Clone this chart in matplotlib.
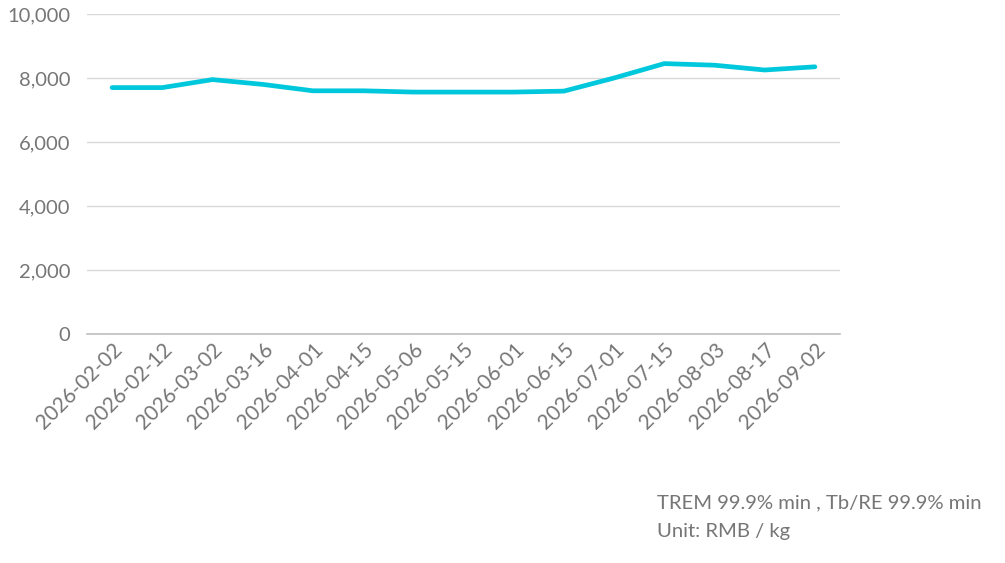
import matplotlib.pyplot as plt

dates = [
    "2026-02-02", "2026-02-12", "2026-03-02", "2026-03-16", "2026-04-01",
    "2026-04-15", "2026-05-06", "2026-05-15", "2026-06-01", "2026-06-15",
    "2026-07-01", "2026-07-15", "2026-08-03", "2026-08-17", "2026-09-02",
]
prices = [7700, 7700, 7950, 7800, 7600, 7600, 7560, 7560, 7560, 7590,
          8000, 8450, 8400, 8250, 8350]
y_ticks = [0, 2000, 4000, 6000, 8000, 10000]
note_lines = ["TREM 99.9% min , Tb/RE 99.9% min", "Unit: RMB / kg"]

plt.rcParams["font.family"] = ["Lato", "DejaVu Sans"]
text_color = "#767676"

fig = plt.figure(figsize=(10.05, 5.63), dpi=100)
ax = fig.add_axes([87 / 1005, 1 - 334 / 563, 753 / 1005, 320 / 563])

x = list(range(len(dates)))
ax.plot(x, prices, color="#00C8DC", linewidth=3.4, solid_capstyle="round",
        solid_joinstyle="round", zorder=3)

ax.set_xlim(-0.5, len(dates) - 0.5)
ax.set_ylim(0, 10000)
ax.set_yticks(y_ticks)
ax.set_yticklabels([f"{v:,}" for v in y_ticks])
ax.set_xticks(x)
ax.set_xticklabels(dates, rotation=45, ha="right", rotation_mode="anchor")

ax.grid(axis="y", color="#d9d9d9", linewidth=1)
ax.set_axisbelow(True)
for side in ("left", "right", "top"):
    ax.spines[side].set_visible(False)
ax.spines["bottom"].set_color("#bfbfbf")
ax.spines["bottom"].set_linewidth(1.2)
ax.tick_params(axis="y", length=0, labelsize=14.5, colors=text_color, pad=12)
ax.tick_params(axis="x", length=0, labelsize=15, colors=text_color, pad=4)

fig.text(657 / 1005, 1 - 503 / 563, note_lines[0], fontsize=14.6,
         color=text_color, va="center", ha="left")
fig.text(657 / 1005, 1 - 532 / 563, note_lines[1], fontsize=14.6,
         color=text_color, va="center", ha="left")

fig.savefig("out.png", dpi=100)
